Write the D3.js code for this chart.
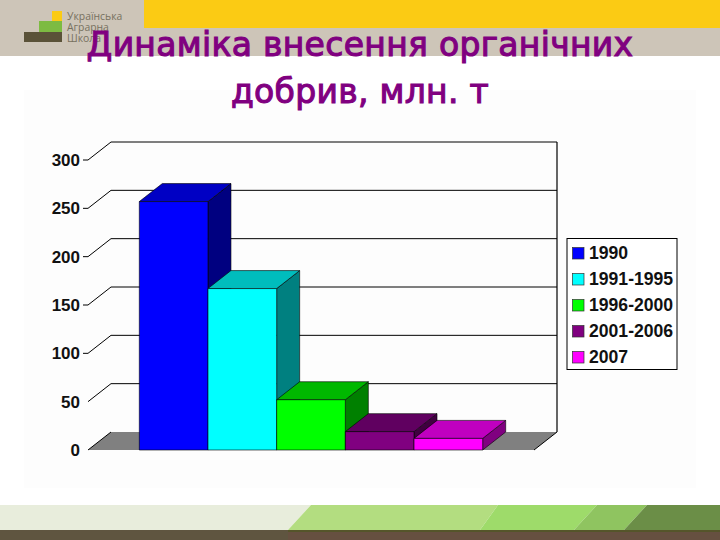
<!DOCTYPE html>
<html><head><meta charset="utf-8">
<script src="https://cdnjs.cloudflare.com/ajax/libs/d3/7.8.5/d3.min.js"></script>
<style>html,body{margin:0;padding:0;background:#fff}svg{display:block}</style>
</head><body><div id="c"></div>
<script>
const categories = ["1990","1991-1995","1996-2000","2001-2006","2007"];
const values = [257,167,52,19,12];
const tickValues = [0,50,100,150,200,250,300];
const titleLines = ["Динаміка внесення органічних","добрив, млн. т"];
const logoLines = ["Українська","Аграрна","Школа"];
const frontColors = ["#0000ff","#00ffff","#00ff00","#800080","#ff00ff"];
const topColors = ["#0000c4","#00bdbd","#00b800","#600060","#c000c0"];
const sideColors = ["#000080","#008080","#008000","#400040","#800080"];

const W=720,H=540;
const svg=d3.select("#c").append("svg").attr("width",W).attr("height",H);

// slide background
svg.append("rect").attr("width",W).attr("height",56).attr("fill","#cdc5b8");
svg.append("rect").attr("x",144).attr("width",W-144).attr("height",28).attr("fill","#fbcb14");
svg.append("rect").attr("x",24).attr("y",90).attr("width",672).attr("height",398).attr("fill","#fdfdfd");
const logo=svg.append("g");
[[52,11,10,10,"#fbcb14"],[39,21,23,11,"#7dbb42"],[24,32,38,10,"#5a5238"]].forEach(r=>
  logo.append("rect").attr("x",r[0]).attr("y",r[1]).attr("width",r[2]).attr("height",r[3]).attr("fill",r[4]));
logoLines.forEach((t,i)=>logo.append("text").attr("x",67).attr("y",20+i*11.2)
  .attr("font-family","'Open Sans',sans-serif").attr("font-size",10.4).attr("fill","#77715f").text(t));

// footer
[[[0,505],[311,505],[288,530],[0,530],"#e8eddc"],
 [[311,505],[498,505],[480,530],[288,530],"#b3dd80"],
 [[498,505],[597,505],[574,530],[480,530],"#9edb6a"],
 [[597,505],[647,505],[624,530],[574,530],"#8fc460"],
 [[647,505],[720,505],[720,530],[624,530],"#6b8e47"]].forEach(p=>
  svg.append("polygon").attr("points",p.slice(0,4).join(" ")).attr("fill",p[4]));
svg.append("rect").attr("y",530).attr("width",288).attr("height",10).attr("fill","#5f5540");
svg.append("rect").attr("x",288).attr("y",530).attr("width",432).attr("height",10).attr("fill","#665040");
svg.append("rect").attr("x",288).attr("y",530).attr("width",432).attr("height",2).attr("fill","#55552a");

// chart
const dx=23,dy=18;
const y=d3.scaleLinear().domain([0,300]).range([450,160]);
const x=d3.scaleBand().domain(categories).range([139.3,482.7]);
const floorL=88,floorR=534;
const g=svg.append("g");
g.append("polygon").attr("points",[[floorL,y(0)],[floorL+dx,y(0)-dy],[floorR+dx,y(0)-dy],[floorR,y(0)]].join(" ")).attr("fill","#808080");
tickValues.forEach(v=>{
  const yy=y(v);
  if(v>0) g.append("line").attr("x1",floorL+dx).attr("x2",floorR+dx).attr("y1",yy-dy).attr("y2",yy-dy).attr("stroke","#000").attr("stroke-width",1);
  g.append("line").attr("x1",floorL).attr("x2",floorL+dx).attr("y1",yy).attr("y2",yy-dy).attr("stroke","#000").attr("stroke-width",1);
  if(v>50) g.append("line").attr("x1",floorL-5).attr("x2",floorL).attr("y1",yy).attr("y2",yy).attr("stroke","#000").attr("stroke-width",1);
  g.append("text").attr("x",80).attr("y",yy+6).attr("text-anchor","end")
    .attr("font-family","'Liberation Sans',Arial,sans-serif").attr("font-size",17).attr("font-weight","bold").attr("fill","#111").text(v);
});
g.append("line").attr("x1",floorR+dx).attr("x2",floorR+dx).attr("y1",y(300)-dy).attr("y2",y(0)-dy).attr("stroke","#000").attr("stroke-width",1.2);
g.append("line").attr("x1",floorR).attr("x2",floorR+dx).attr("y1",y(0)).attr("y2",y(0)-dy).attr("stroke","#000").attr("stroke-width",1);

categories.forEach((c,i)=>{
  const x0=x(c),x1=x0+x.bandwidth(),t=y(values[i]),b=y(0);
  const bar=g.append("g").attr("stroke","#000").attr("stroke-width",0.6).attr("stroke-linejoin","round");
  bar.append("polygon").attr("points",[[x1,t],[x1+dx,t-dy],[x1+dx,b-dy],[x1,b]].join(" ")).attr("fill",sideColors[i]);
  bar.append("polygon").attr("points",[[x0,t],[x0+dx,t-dy],[x1+dx,t-dy],[x1,t]].join(" ")).attr("fill",topColors[i]);
  bar.append("rect").attr("x",x0).attr("y",t).attr("width",x1-x0).attr("height",b-t).attr("fill",frontColors[i]);
});

// legend
const ly=d3.scalePoint().domain(categories).range([253,357]);
const leg=svg.append("g");
leg.append("rect").attr("x",567).attr("y",238.5).attr("width",110).attr("height",131).attr("fill","#fff").attr("stroke","#000").attr("stroke-width",1);
categories.forEach((c,i)=>{
  leg.append("rect").attr("x",572.5).attr("y",ly(c)-5.5).attr("width",11.5).attr("height",11.5).attr("fill",frontColors[i]).attr("stroke","#333").attr("stroke-width",0.7);
  leg.append("text").attr("x",589).attr("y",ly(c)+6).attr("font-family","'Liberation Sans',Arial,sans-serif")
    .attr("font-size",17.6).attr("font-weight","bold").attr("fill","#111").text(c);
});

// title
titleLines.forEach((t,i)=>svg.append("text").attr("x",360).attr("y",[56,103][i]).attr("text-anchor","middle")
  .attr("font-family","'DejaVu Sans',sans-serif").attr("font-size",33).attr("letter-spacing",0.3).attr("fill","#800080")
  .attr("stroke","#800080").attr("stroke-width",1.1).text(t));
</script></body></html>
